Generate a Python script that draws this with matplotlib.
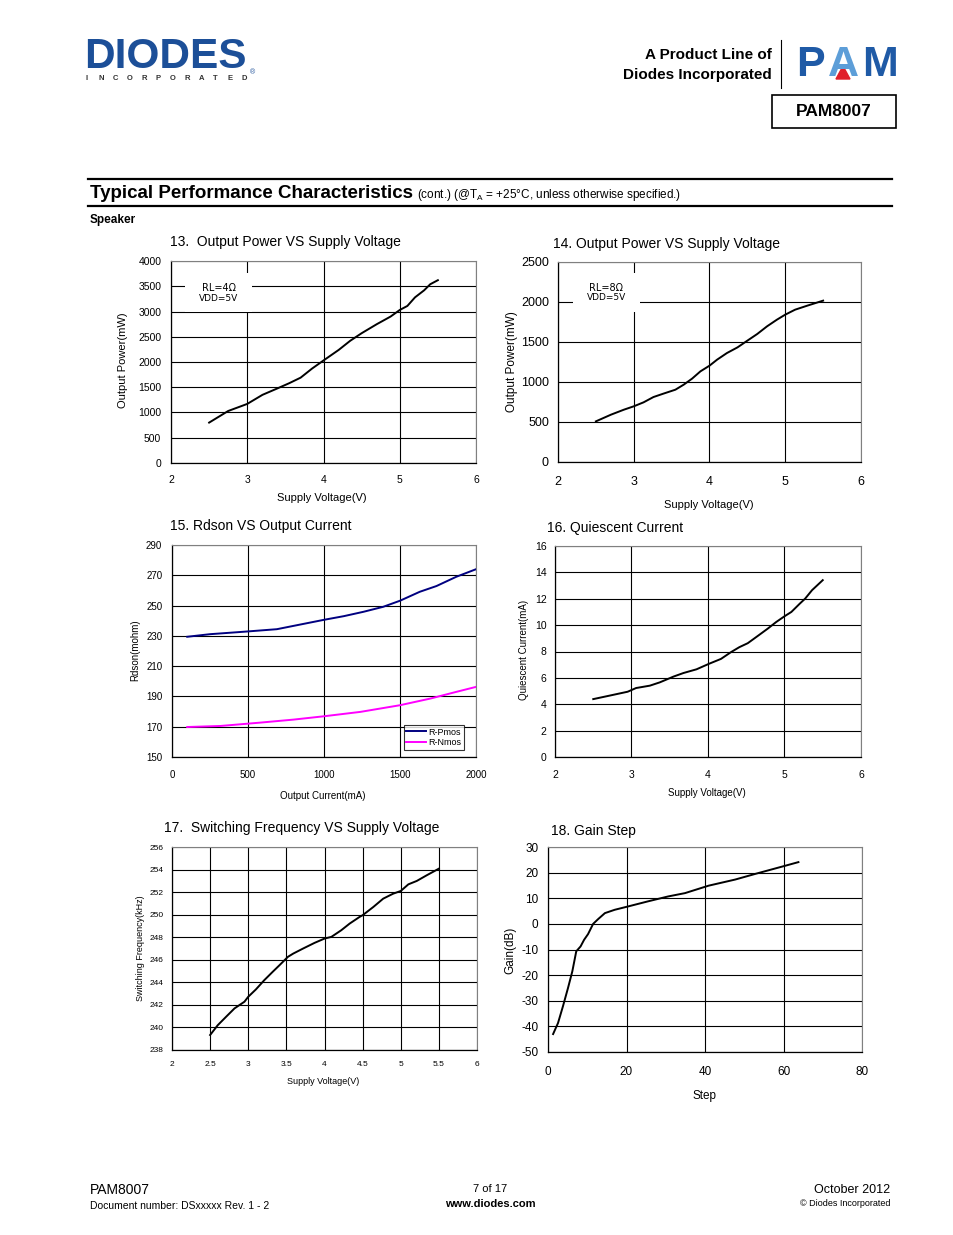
import matplotlib
matplotlib.use("Agg")
import matplotlib.pyplot as plt
from matplotlib.patches import Rectangle, Polygon

plt.rcParams['font.family'] = ['Liberation Sans', 'DejaVu Sans']
plt.rcParams['axes.unicode_minus'] = False

W, H = 954, 1235

# ---- data ----
# 13. Output power vs supply voltage, RL=4 ohm
v13 = [2.5, 2.75, 3.0, 3.2, 3.4, 3.55, 3.7, 3.85, 4.0, 4.2, 4.35, 4.5, 4.7, 4.88, 5.0, 5.1, 5.2, 5.32, 5.4, 5.5]
p13 = [800, 1030, 1170, 1350, 1480, 1580, 1690, 1870, 2030, 2240, 2420, 2570, 2750, 2900, 3030, 3110, 3280, 3420, 3540, 3620]

# 14. Output power vs supply voltage, RL=8 ohm
v14 = [2.5, 2.7, 2.87, 3.0, 3.13, 3.26, 3.39, 3.55, 3.66, 3.77, 3.88, 4.0, 4.1, 4.23, 4.37, 4.5, 4.63, 4.76, 4.89, 5.0, 5.13, 5.29, 5.5]
p14 = [508, 592, 654, 696, 746, 812, 854, 904, 967, 1042, 1133, 1204, 1279, 1362, 1433, 1517, 1600, 1696, 1779, 1842, 1904, 1954, 2017]

# 15. Rdson vs output current
i15 = [100, 250, 470, 690, 1000, 1130, 1260, 1390, 1500, 1630, 1740, 1870, 2000]
rp15 = [229.4, 231.1, 232.7, 234.4, 240.6, 243.0, 245.9, 249.2, 253.2, 259.1, 262.9, 269.0, 274.0]
i15n = [100, 320, 580, 800, 1000, 1240, 1500, 1700, 1870, 2000]
rn15 = [169.8, 170.5, 172.7, 174.7, 176.9, 179.8, 184.2, 188.6, 193.0, 196.3]

# 16. Quiescent current vs supply voltage
v16 = [2.5, 2.71, 2.95, 3.06, 3.24, 3.37, 3.55, 3.68, 3.85, 4.01, 4.17, 4.3, 4.41, 4.52, 4.66, 4.78, 4.89, 5.0, 5.09, 5.2, 5.27, 5.36, 5.5]
q16 = [4.39, 4.65, 4.95, 5.23, 5.41, 5.66, 6.1, 6.37, 6.65, 7.06, 7.44, 7.95, 8.33, 8.63, 9.22, 9.73, 10.23, 10.67, 11.0, 11.63, 12.01, 12.65, 13.41]

# 17. Switching frequency vs supply voltage
v17 = [2.5, 2.6, 2.71, 2.82, 2.95, 3.0, 3.1, 3.21, 3.32, 3.41, 3.52, 3.59, 3.72, 3.87, 4.0, 4.09, 4.22, 4.33, 4.46, 4.5, 4.64, 4.77, 4.9, 5.0, 5.1, 5.21, 5.34, 5.5]
f17 = [239.33, 240.2, 240.95, 241.69, 242.28, 242.72, 243.37, 244.19, 244.93, 245.52, 246.26, 246.55, 247.0, 247.5, 247.88, 248.03, 248.62, 249.21, 249.8, 249.95, 250.68, 251.42, 251.86, 252.1, 252.69, 252.99, 253.49, 254.08]

# 18. Gain step
s18 = [1.3, 2.55, 3.8, 5.1, 6.2, 7.2, 8.3, 9.2, 10.2, 11.5, 12.8, 14.5, 17, 20.4, 25.5, 30.6, 34.9, 40.9, 47.7, 52.8, 60, 63.8]
g18 = [-43.0, -38.7, -32.2, -25.0, -18.5, -10.7, -8.8, -6.2, -4.0, 0.0, 1.9, 4.2, 5.5, 6.8, 8.8, 10.7, 12.0, 14.9, 17.3, 19.5, 22.5, 24.1]

fig = plt.figure(figsize=(W / 100, H / 100), dpi=100)


def px_axes(l, t, r, b):
    return fig.add_axes([l / W, 1 - b / H, (r - l) / W, (b - t) / H])


def ftext(x, y, s, **kw):
    kw.setdefault('va', 'center')
    return fig.text(x / W, 1 - y / H, s, **kw)


def style(ax, xlim, ylim, xticks, yticks, fs, xpad, ypad, xlabels=None):
    ax.set_xlim(*xlim)
    ax.set_ylim(*ylim)
    ax.set_xticks(xticks)
    ax.set_yticks(yticks)
    if xlabels is not None:
        ax.set_xticklabels(xlabels)
    ax.grid(True, color='black', lw=0.8)
    ax.set_axisbelow(True)
    ax.tick_params(length=0, labelsize=fs)
    ax.tick_params(axis='x', pad=xpad)
    ax.tick_params(axis='y', pad=ypad)
    for s in ['top', 'right']:
        ax.spines[s].set_color('#808080')
        ax.spines[s].set_linewidth(0.8)
    for s in ['left', 'bottom']:
        ax.spines[s].set_color('black')
        ax.spines[s].set_linewidth(0.9)


def note_box(ax, x0, y0, x1, y1, lines):
    ax.add_patch(Rectangle((x0, y0), x1 - x0, y1 - y0, transform=ax.transAxes,
                           facecolor='white', edgecolor='none', zorder=3))
    xc = (x0 + x1) / 2
    ax.text(xc, y1 - (y1 - y0) * 0.38, lines[0], transform=ax.transAxes, ha='center',
            va='center', fontsize=7, zorder=4, family=['DejaVu Sans'])
    ax.text(xc, y1 - (y1 - y0) * 0.64, lines[1], transform=ax.transAxes, ha='center',
            va='center', fontsize=6.5, zorder=4, family=['DejaVu Sans'])


# ---- header ----
blue = '#1c4f98'
ftext(84, 57, 'DIODES', fontsize=30.5, fontweight='bold', color=blue, ha='left')
fig.add_artist(plt.Line2D([90 / W, 240 / W], [1 - 58 / H, 1 - 58 / H], color='white', lw=1.5))
for k, ch in enumerate('INCORPORATED'):
    ftext(87 + k * 14.3, 79, ch, fontsize=5.5, fontweight='bold', color='#333333', ha='center')
ftext(253, 73, '®', fontsize=5, color=blue, ha='center')

ftext(772, 55, 'A Product Line of', fontsize=11, fontweight='bold', ha='right')
ftext(772, 75, 'Diodes Incorporated', fontsize=11, fontweight='bold', ha='right')
fig.add_artist(plt.Line2D([781 / W, 781 / W], [1 - 40 / H, 1 - 88 / H], color='black', lw=0.8))
ftext(796, 65, 'P', fontsize=31, fontweight='bold', color='#1f5aa6', ha='left')
ftext(843, 65, 'A', fontsize=31, fontweight='bold', color='#5d9ed8', ha='center')
ftext(898, 65, 'M', fontsize=31, fontweight='bold', color='#1f5aa6', ha='right')
fig.add_artist(Polygon([[836 / W, 1 - 79 / H], [850 / W, 1 - 79 / H], [843 / W, 1 - 66 / H]],
                       closed=True, color='#e0202a'))
fig.add_artist(Rectangle((772 / W, 1 - 128 / H), 124 / W, 33 / H, fill=False, ec='black', lw=1.2))
ftext(834, 112, 'PAM8007', fontsize=12.5, fontweight='bold', ha='center')

fig.add_artist(plt.Line2D([88 / W, 892 / W], [1 - 179 / H, 1 - 179 / H], color='black', lw=1.6))
fig.add_artist(plt.Line2D([88 / W, 892 / W], [1 - 206 / H, 1 - 206 / H], color='black', lw=1.6))
ftext(90, 193, 'Typical Performance Characteristics', fontsize=13.5, fontweight='bold', ha='left')
ftext(417, 195, '(cont.) (@T$_\\mathregular{A}$ = +25°C, unless otherwise specified.)', fontsize=8.5, ha='left')
ftext(90, 220, 'Speaker', fontsize=8.5, fontweight='bold', ha='left')

# ---- 13 ----
ax = px_axes(171, 261, 476, 463)
ax.plot(v13, p13, color='black', lw=1.4, zorder=5)
style(ax, (2, 6), (0, 4000), [2, 3, 4, 5, 6], range(0, 4001, 500), 7.5, 9, 7)
note_box(ax, 0.046, 0.746, 0.266, 0.94, ['RL=4Ω', 'VDD=5V'])
ftext(170, 242, '13.  Output Power VS Supply Voltage', fontsize=10, ha='left')
ftext(322, 498, 'Supply Voltage(V)', fontsize=8, ha='center')
ftext(123, 360, 'Output Power(mW)', fontsize=8, rotation=90, ha='center')

# ---- 14 ----
ax = px_axes(558, 262, 861, 462)
ax.plot(v14, p14, color='black', lw=1.4, zorder=5)
style(ax, (2, 6), (0, 2500), [2, 3, 4, 5, 6], range(0, 2501, 500), 9, 10, 6.5)
note_box(ax, 0.05, 0.75, 0.27, 0.945, ['RL=8Ω', 'VDD=5V'])
ftext(553, 244, '14. Output Power VS Supply Voltage', fontsize=10, ha='left')
ftext(709, 505, 'Supply Voltage(V)', fontsize=8, ha='center')
ftext(512, 362, 'Output Power(mW)', fontsize=8.5, rotation=90, ha='center')

# ---- 15 ----
ax = px_axes(172, 545, 476, 757)
ax.plot(i15, rp15, color='#000080', lw=1.4, zorder=5, label='R-Pmos')
ax.plot(i15n, rn15, color='#ff00ff', lw=1.4, zorder=5, label='R-Nmos')
style(ax, (0, 2000), (150, 290), range(0, 2001, 500), range(150, 291, 20), 7, 9, 7)
leg = ax.legend(loc='lower right', bbox_to_anchor=(0.96, 0.035), fontsize=6.5, frameon=True,
                fancybox=False, handlelength=2.2, handletextpad=0.2, borderpad=0.3,
                labelspacing=0.15, borderaxespad=0)
leg.get_frame().set_edgecolor('black')
leg.get_frame().set_linewidth(0.8)
ftext(170, 526, '15. Rdson VS Output Current', fontsize=10, ha='left')
ftext(323, 796, 'Output Current(mA)', fontsize=7, ha='center')
ftext(135, 650, 'Rdson(mohm)', fontsize=7, rotation=90, ha='center')

# ---- 16 ----
ax = px_axes(555, 546, 861, 757)
ax.plot(v16, q16, color='black', lw=1.4, zorder=5)
style(ax, (2, 6), (0, 16), [2, 3, 4, 5, 6], range(0, 17, 2), 7.5, 9, 6)
ftext(547, 528, '16. Quiescent Current', fontsize=10, ha='left')
ftext(707, 793, 'Supply Voltage(V)', fontsize=7, ha='center')
ftext(524, 650, 'Quiescent Current(mA)', fontsize=7, rotation=90, ha='center')

# ---- 17 ----
ax = px_axes(172, 847, 477, 1050)
ax.plot(v17, f17, color='black', lw=1.4, zorder=5)
style(ax, (2, 6), (238, 256), [2, 2.5, 3, 3.5, 4, 4.5, 5, 5.5, 6], range(238, 257, 2), 6, 8, 6,
      xlabels=['2', '2.5', '3', '3.5', '4', '4.5', '5', '5.5', '6'])
ftext(164, 828, '17.  Switching Frequency VS Supply Voltage', fontsize=10, ha='left')
ftext(323, 1081, 'Supply Voltage(V)', fontsize=6.5, ha='center')
ftext(141, 948, 'Switching Frequency(kHz)', fontsize=6.5, rotation=90, ha='center')

# ---- 18 ----
ax = px_axes(548, 847, 862, 1052)
ax.plot(s18, g18, color='black', lw=1.4, zorder=5)
style(ax, (0, 80), (-50, 30), range(0, 81, 20), range(-50, 31, 10), 8.5, 10, 7)
ftext(551, 831, '18. Gain Step', fontsize=10, ha='left')
ftext(705, 1096, 'Step', fontsize=8.5, ha='center')
ftext(510, 950, 'Gain(dB)', fontsize=8.5, rotation=90, ha='center')

# ---- footer ----
ftext(90, 1190, 'PAM8007', fontsize=10, ha='left')
ftext(90, 1206, 'Document number: DSxxxxx Rev. 1 - 2', fontsize=7.5, ha='left')
ftext(490, 1189, '7 of 17', fontsize=8, ha='center')
ftext(490, 1204, 'www.diodes.com', fontsize=8, fontweight='bold', ha='center')
ftext(890, 1190, 'October 2012', fontsize=9, ha='right')
ftext(890, 1204, '© Diodes Incorporated', fontsize=6.5, ha='right')

fig.savefig('out.png', dpi=100)
